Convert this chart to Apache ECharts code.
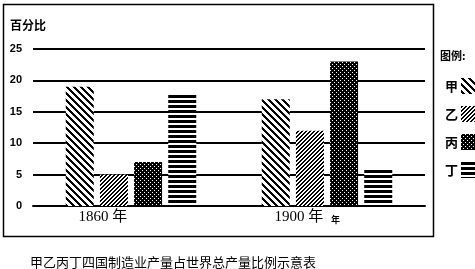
<!DOCTYPE html>
<html><head><meta charset="utf-8">
<script src="https://cdn.jsdelivr.net/npm/echarts@6/dist/echarts.min.js"></script>
<style>html,body{margin:0;padding:0;background:#fff}#c{width:475px;height:269px}</style>
</head><body><div id="c"></div>
<script>
var categories = ['1860 年', '1900 年'];
var seriesNames = ['甲', '乙', '丙', '丁'];
var jia = [19, 17];
var yi = [5, 12];
var bing = [7, 23];
var ding = [18, 6];
var yMin = 0, yMax = 25, yStep = 5;
var caption = '甲乙丙丁四国制造业产量占世界总产量比例示意表';

function tile(w, h, fn) {
  var c = document.createElement('canvas');
  c.width = w; c.height = h;
  var ctx = c.getContext('2d');
  ctx.fillStyle = '#fff'; ctx.fillRect(0, 0, w, h);
  ctx.fillStyle = '#000';
  for (var y = 0; y < h; y++) for (var x = 0; x < w; x++) if (fn(x, y)) ctx.fillRect(x, y, 1, 1);
  return {image: c, repeat: 'repeat'};
}
var pats = [
  tile(7, 7, function (x, y) { return ((x - y + 70) % 7) < 3; }),
  tile(4, 4, function (x, y) { return ((x + y) % 4) < 2; }),
  tile(4, 4, function (x, y) { return !((x === 0 && y === 0) || (x === 2 && y === 2)); }),
  tile(5, 5, function (x, y) { return (y % 5) < 3; })
];
var values = [jia, yi, bing, ding];

var chart = echarts.init(document.getElementById('c'), null, {renderer: 'canvas'});
chart.setOption({
  animation: false,
  backgroundColor: '#fff',
  grid: {left: 33, right: 50, top: 49, bottom: 63},
  xAxis: {
    type: 'category', data: categories,
    axisLine: {lineStyle: {color: '#000', width: 2}},
    axisTick: {show: false},
    axisLabel: {color: '#000', fontFamily: 'Liberation Serif, Noto Sans CJK SC', fontSize: 15, margin: 4, padding: [0, 56, 0, 0]}
  },
  yAxis: {
    type: 'value', min: yMin, max: yMax, interval: yStep,
    axisLine: {show: false}, axisTick: {show: false},
    splitLine: {lineStyle: {color: '#000', width: 2}},
    axisLabel: {color: '#000', fontWeight: 'bold', fontFamily: 'Liberation Sans', fontSize: 11, margin: 11}
  },
  legend: {
    orient: 'vertical', left: 440, top: 73, align: 'right',
    itemWidth: 15, itemHeight: 16, itemGap: 12,
    textStyle: {color: '#000', fontWeight: 'bold', fontSize: 13, fontFamily: 'Noto Sans CJK SC', padding: [0, -2, 0, 0]},
    data: seriesNames.map(function (n) { return {name: n, icon: 'rect'}; })
  },
  series: seriesNames.map(function (n, i) {
    return {
      name: n, type: 'bar', data: values[i],
      barWidth: 28, barGap: '22%',
      itemStyle: {color: pats[i]}
    };
  }),
  graphic: [
    {type: 'rect', shape: {x: 3.5, y: 4.5, width: 430, height: 232}, style: {fill: 'none', stroke: '#000', lineWidth: 1.5}, silent: true},
    {type: 'text', left: 10, top: 19, style: {text: '百分比', font: 'bold 12px "Noto Sans CJK SC"', fill: '#000'}},
    {type: 'text', left: 440, top: 50, style: {text: '图例:', font: 'bold 11px "Noto Sans CJK SC"', fill: '#000'}},
    {type: 'text', left: 331, top: 215, style: {text: '年', font: 'bold 9px "Noto Sans CJK SC"', fill: '#000'}},
    {type: 'text', left: 30, top: 256, style: {text: caption, font: '13px "Noto Sans CJK SC"', fill: '#000'}}
  ]
});
</script></body></html>
